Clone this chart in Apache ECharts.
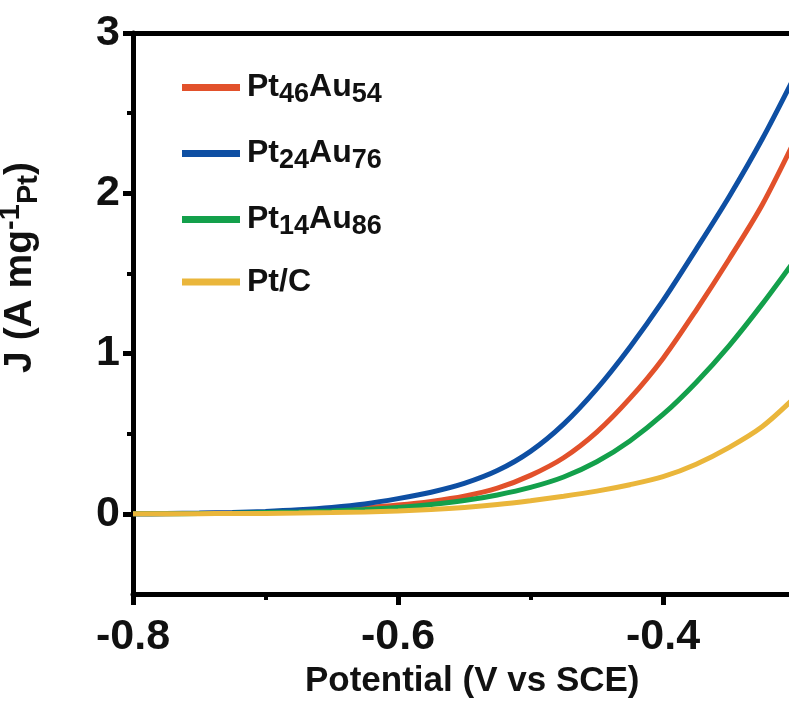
<!DOCTYPE html>
<html>
<head>
<meta charset="utf-8">
<script src="https://cdn.jsdelivr.net/npm/echarts@6/dist/echarts.min.js"></script>
<style>
  html, body { margin: 0; padding: 0; background: #fff; }
  #chart { width: 789px; height: 704px; }
</style>
</head>
<body>
<div id="chart"></div>
<script>
// potential (V vs SCE)
var potential = [-0.8, -0.775, -0.75, -0.725, -0.7, -0.675, -0.65, -0.625, -0.6, -0.575, -0.55, -0.525, -0.5, -0.475, -0.45, -0.425, -0.4, -0.375, -0.35, -0.325, -0.3];
// current density J (A mg-1 Pt)
var pt46au54 = [0, 0.001, 0.003, 0.006, 0.01, 0.016, 0.025, 0.038, 0.055, 0.078, 0.11, 0.16, 0.24, 0.35, 0.51, 0.72, 0.97, 1.27, 1.59, 1.93, 2.34];
var pt24au76 = [0, 0.002, 0.005, 0.009, 0.015, 0.025, 0.04, 0.062, 0.095, 0.135, 0.19, 0.27, 0.39, 0.56, 0.78, 1.04, 1.33, 1.65, 1.98, 2.34, 2.74];
var pt14au86 = [0, 0.001, 0.002, 0.004, 0.008, 0.012, 0.018, 0.027, 0.04, 0.058, 0.083, 0.118, 0.165, 0.23, 0.325, 0.455, 0.62, 0.82, 1.05, 1.31, 1.59];
var ptc = [0, 0.0005, 0.001, 0.002, 0.003, 0.005, 0.008, 0.012, 0.018, 0.027, 0.04, 0.058, 0.082, 0.11, 0.142, 0.182, 0.232, 0.31, 0.415, 0.545, 0.73];

var names = ["Pt46Au54", "Pt24Au76", "Pt14Au86", "Pt/C"];
var colors = ["#e2512b", "#0e4fa3", "#13a04b", "#eab63b"];
var xMajor = [-0.8, -0.6, -0.4];
var xMinor = [-0.7, -0.5];
var yMajor = [0, 1, 2, 3];
var yMinor = [0.5, 1.5, 2.5];

function pairs(ys) {
  var out = [];
  for (var i = 0; i < potential.length; i++) out.push([potential[i], ys[i]]);
  return out;
}

var font = "Liberation Sans";
var myChart = echarts.init(document.getElementById("chart"));

var labelRich = {
  a: { fontFamily: font, fontWeight: "bold", fontSize: 32, color: "#111", lineHeight: 36 },
  b: { fontFamily: font, fontWeight: "bold", fontSize: 27, color: "#111", padding: [14, 0, 0, 0], lineHeight: 36 }
};

function legendFmt(name) {
  var m = name.match(/^Pt(\d+)Au(\d+)$/);
  if (m) return "{a|Pt}{b|" + m[1] + "}{a|Au}{b|" + m[2] + "}";
  return "{a|" + name + "}";
}

// line centres of the legend samples
var legendY = [85, 151, 217, 284];
var legends = [];
for (var i = 0; i < names.length; i++) {
  legends.push({
    data: [names[i]],
    left: 182,
    top: legendY[i] - 18,
    padding: 0,
    icon: "rect",
    itemWidth: 58,
    itemHeight: 7,
    itemGap: 0,
    formatter: legendFmt,
    textStyle: { padding: [0, 0, 0, 2], rich: labelRich },
    selectedMode: false
  });
}

var series = [pt46au54, pt24au76, pt14au86, ptc].map(function (d, i) {
  return {
    name: names[i],
    type: "line",
    data: pairs(d),
    smooth: 0.3,
    showSymbol: false,
    symbol: "none",
    lineStyle: { width: 5, color: colors[i] },
    itemStyle: { color: colors[i] }
  };
});

var axisLabelStyle = { fontFamily: font, fontWeight: "bold", fontSize: 43, color: "#111" };

var options = {
  animation: false,
  backgroundColor: "#fff",
  legend: legends,
  grid: { left: 133, top: 33, width: 662.5, height: 561, outerBoundsMode: "none", containLabel: false },
  xAxis: [
    {
      type: "value",
      position: "bottom",
      min: -0.8,
      max: -0.3,
      name: "Potential (V vs SCE)",
      nameLocation: "middle",
      nameGap: 68,
      nameTextStyle: { fontFamily: font, fontWeight: "bold", fontSize: 35, color: "#111", padding: [0, 0, 0, 16] },
      axisLine: { show: true, onZero: false, lineStyle: { color: "#000", width: 5 } },
      axisTick: { show: true, customValues: xMajor, length: 11, lineStyle: { color: "#000", width: 5 } },
      axisLabel: Object.assign({ customValues: xMajor, margin: 22, formatter: function (v) { return v.toFixed(1); } }, axisLabelStyle),
      splitLine: { show: false }
    },
    {
      type: "value",
      position: "bottom",
      min: -0.8,
      max: -0.3,
      axisLine: { show: false, onZero: false },
      axisTick: { show: true, customValues: xMinor, length: 6, lineStyle: { color: "#000", width: 4 } },
      axisLabel: { show: false },
      splitLine: { show: false }
    },
    {
      type: "value",
      position: "top",
      min: -0.8,
      max: -0.3,
      axisLine: { show: true, onZero: false, lineStyle: { color: "#000", width: 5 } },
      axisTick: { show: false },
      axisLabel: { show: false },
      splitLine: { show: false }
    }
  ],
  yAxis: [
    {
      type: "value",
      position: "left",
      min: -0.5,
      max: 3,
      name: "{a|J (A mg}{sup|-1}{sub|Pt}{a|)}",
      nameLocation: "middle",
      nameGap: 90,
      nameRotate: 90,
      nameTextStyle: {
        padding: [0, 0, 0, 92],
        rich: {
          a: { fontFamily: font, fontWeight: "bold", fontSize: 39, color: "#111", lineHeight: 46 },
          sup: { fontFamily: font, fontWeight: "bold", fontSize: 29, color: "#111", padding: [0, 0, 18, 0], lineHeight: 46 },
          sub: { fontFamily: font, fontWeight: "bold", fontSize: 29, color: "#111", padding: [18, 0, 0, 0], lineHeight: 46 }
        }
      },
      axisLine: { show: true, onZero: false, lineStyle: { color: "#000", width: 5 } },
      axisTick: { show: true, customValues: yMajor, length: 10, lineStyle: { color: "#000", width: 5 } },
      axisLabel: Object.assign({ customValues: yMajor, margin: 13 }, axisLabelStyle),
      splitLine: { show: false }
    },
    {
      type: "value",
      position: "left",
      min: -0.5,
      max: 3,
      axisLine: { show: false, onZero: false },
      axisTick: { show: true, customValues: yMinor, length: 6, lineStyle: { color: "#000", width: 4 } },
      axisLabel: { show: false },
      splitLine: { show: false }
    }
  ],
  series: series
};

myChart.setOption(options);
</script>
</body>
</html>
